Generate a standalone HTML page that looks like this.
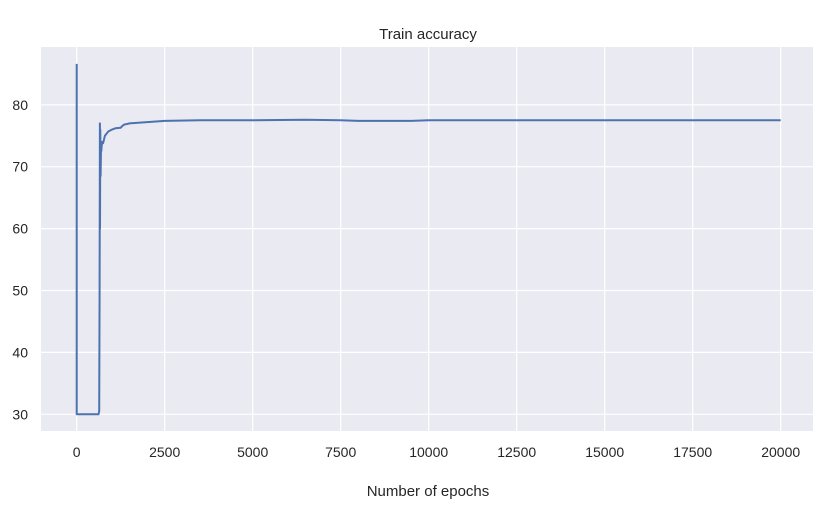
<!DOCTYPE html>
<html><head><meta charset="utf-8"><style>
body{margin:0;background:#fff;}
svg{display:block;font-family:"Liberation Sans",Arial,sans-serif;}
</style></head><body>
<svg width="825" height="507" viewBox="0 0 825 507">
<rect x="41" y="47" width="772" height="384" fill="#eaeaf2"/>
<g id="grid"></g>
<g id="ticks" font-size="14" fill="#262626"></g>
<polyline id="line" fill="none" stroke="#4c72b0" stroke-width="2" stroke-linejoin="round"/>
<text x="428" y="39" text-anchor="middle" font-size="15" fill="#262626">Train accuracy</text>
<text x="428" y="496" text-anchor="middle" font-size="15" fill="#262626">Number of epochs</text>
</svg>
<script>
const epochs = [0,1,2,620,640,650,660,662,670,680,690,700,720,750,800,900,1000,1100,1250,1300,1350,1500,2000,2500,3500,5000,6500,7500,8000,9000,9500,10000,15000,20000];
const accuracy = [86.6,30,30,30,30.5,50,77,60,76,68.5,73,72.5,74,73.8,75,75.7,76,76.2,76.3,76.6,76.8,77,77.2,77.4,77.5,77.5,77.6,77.5,77.4,77.4,77.4,77.5,77.5,77.5];
const xTicks = [0,2500,5000,7500,10000,12500,15000,17500,20000];
const yTicks = [30,40,50,60,70,80];
const xs = v => 76.7 + v * 88 / 2500;
const ys = v => 414.3 - (v - 30) * 6.19;
const NS = "http://www.w3.org/2000/svg";
const grid = document.getElementById('grid'), ticks = document.getElementById('ticks');
xTicks.forEach(t => {
  const l = document.createElementNS(NS,'line');
  l.setAttribute('x1',xs(t));l.setAttribute('x2',xs(t));l.setAttribute('y1',47);l.setAttribute('y2',431);
  l.setAttribute('stroke','#fff');l.setAttribute('stroke-width','1.2');
  
  
  grid.appendChild(l);
  const tx = document.createElementNS(NS,'text');
  tx.setAttribute('x',xs(t));tx.setAttribute('y',457);tx.setAttribute('text-anchor','middle');
  tx.textContent = t;
  
  
  ticks.appendChild(tx);
});
yTicks.forEach(t => {
  const l = document.createElementNS(NS,'line');
  l.setAttribute('x1',41);l.setAttribute('x2',813);l.setAttribute('y1',ys(t));l.setAttribute('y2',ys(t));
  l.setAttribute('stroke','#fff');l.setAttribute('stroke-width','1.2');
  
  
  grid.appendChild(l);
  const tx = document.createElementNS(NS,'text');
  tx.setAttribute('x',28);tx.setAttribute('y',ys(t)+5);tx.setAttribute('text-anchor','end');
  tx.textContent = t;
  
  
  ticks.appendChild(tx);
});
document.getElementById('line').setAttribute('points', epochs.map((e,i)=>xs(e).toFixed(1)+','+ys(accuracy[i]).toFixed(1)).join(' '));
</script>
</body></html>
